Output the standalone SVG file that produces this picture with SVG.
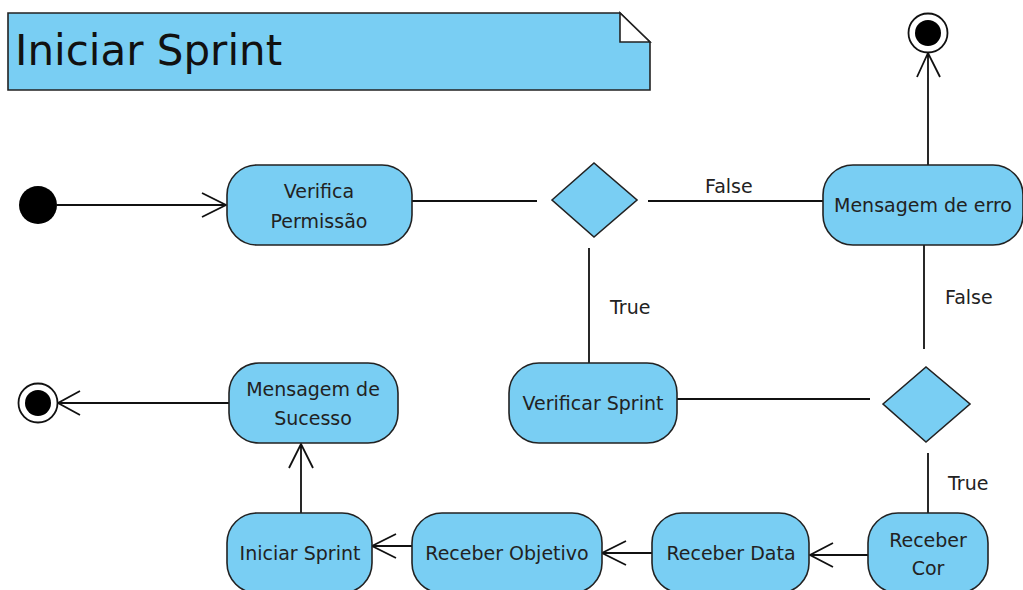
<svg xmlns="http://www.w3.org/2000/svg" width="1023" height="590" viewBox="0 0 1023 590">
<defs>
<style>
.act{fill:#79cef3;stroke:#222;stroke-width:1.6}
.dec{fill:#79cef3;stroke:#222;stroke-width:1.6}
.t{font-family:"DejaVu Sans","Liberation Sans",sans-serif;font-size:19px;fill:#222;text-anchor:middle}
.lbl{font-family:"DejaVu Sans","Liberation Sans",sans-serif;font-size:19px;fill:#222}
.c{fill:none;stroke:#111;stroke-width:1.8}
</style>
</defs>
<rect width="1023" height="590" fill="#fff"/>
<g id="note">
<path d="M8,13 H620 L650,42 V90 H8 Z" fill="#79cef3" stroke="#222" stroke-width="1.6"/>
<path d="M620,13 V42 H650 Z" fill="#fff" stroke="#222" stroke-width="1.6"/>
<text x="15" y="65" font-family="DejaVu Sans, Liberation Sans, sans-serif" font-size="42" fill="#111">Iniciar Sprint</text>
</g>
<g id="connectors">
<path class="c" d="M57,205 H226 M202,193 L226,205 L202,217"/>
<path class="c" d="M412,201 H537"/>
<path class="c" d="M648,201 H823"/>
<text class="lbl" x="705" y="193">False</text>
<path class="c" d="M589,248 V363"/>
<text class="lbl" x="610" y="314">True</text>
<path class="c" d="M928,165 V53 M917,77 L928,53 L940,77"/>
<path class="c" d="M924,245 V349"/>
<text class="lbl" x="945" y="304">False</text>
<path class="c" d="M677,399 H870"/>
<path class="c" d="M928,453 V513"/>
<text class="lbl" x="948" y="490">True</text>
<path class="c" d="M868,555 H810 M833,543 L810,555 L833,567"/>
<path class="c" d="M652,553 H602 M626,541 L602,553 L626,565"/>
<path class="c" d="M412,546 H372 M396,534 L372,546 L396,558"/>
<path class="c" d="M301,513 V444 M289,468 L301,444 L313,468"/>
<path class="c" d="M229,403 H58 M80,391 L58,403 L80,415"/>
</g>
<g id="start">
<circle cx="38" cy="205" r="19" fill="#000"/>
</g>
<g id="verifica-permissao">
<rect class="act" x="227" y="165" width="185" height="80" rx="30"/>
<text class="t" x="319" y="198">Verifica</text>
<text class="t" x="319" y="228">Permissão</text>
</g>
<g id="decision1">
<polygon class="dec" points="552,200 594,163 637,200 594,237"/>
</g>
<g id="mensagem-erro">
<rect class="act" x="823" y="165" width="200" height="80" rx="30"/>
<text class="t" x="923" y="212">Mensagem de erro</text>
</g>
<g id="end1">
<circle cx="928" cy="33" r="19.5" fill="#fff" stroke="#111" stroke-width="1.8"/>
<circle cx="928" cy="33" r="13" fill="#000"/>
</g>
<g id="verificar-sprint">
<rect class="act" x="509" y="363" width="168" height="80" rx="30"/>
<text class="t" x="593" y="410">Verificar Sprint</text>
</g>
<g id="decision2">
<polygon class="dec" points="883,404 926,367 970,404 926,442"/>
</g>
<g id="mensagem-sucesso">
<rect class="act" x="229" y="363" width="169" height="80" rx="30"/>
<text class="t" x="313" y="396">Mensagem de</text>
<text class="t" x="313" y="425">Sucesso</text>
</g>
<g id="end2">
<circle cx="38" cy="403" r="19.5" fill="#fff" stroke="#111" stroke-width="1.8"/>
<circle cx="38" cy="403" r="13" fill="#000"/>
</g>
<g id="receber-cor">
<rect class="act" x="868" y="513" width="120" height="80" rx="30"/>
<text class="t" x="928" y="547">Receber</text>
<text class="t" x="928" y="575">Cor</text>
</g>
<g id="receber-data">
<rect class="act" x="652" y="513" width="157" height="80" rx="30"/>
<text class="t" x="731" y="560">Receber Data</text>
</g>
<g id="receber-objetivo">
<rect class="act" x="412" y="513" width="190" height="80" rx="30"/>
<text class="t" x="507" y="560">Receber Objetivo</text>
</g>
<g id="iniciar-sprint">
<rect class="act" x="227" y="513" width="145" height="80" rx="30"/>
<text class="t" x="300" y="560">Iniciar Sprint</text>
</g>
</svg>
